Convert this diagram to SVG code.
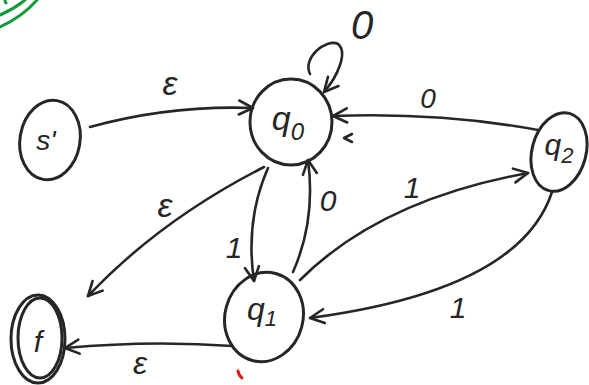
<svg xmlns="http://www.w3.org/2000/svg" width="589" height="385" viewBox="0 0 589 385">
<style>
.n{fill:none;stroke:#262626;stroke-width:3;stroke-linecap:round;stroke-linejoin:round}
.e{fill:none;stroke:#262626;stroke-width:2.6;stroke-linecap:round;stroke-linejoin:round}
.t{font-family:"Liberation Sans",Arial,sans-serif;font-style:italic;fill:#262626;text-anchor:middle}
.g{fill:none;stroke:#129a3c;stroke-width:3;stroke-linecap:round}
</style>
<defs>
<marker id="ar" viewBox="0 0 18 18" refX="16" refY="9" markerWidth="18" markerHeight="18" markerUnits="userSpaceOnUse" orient="auto">
<path d="M2,2 L16,9 L2,16" fill="none" stroke="#262626" stroke-width="2.6" stroke-linecap="round" stroke-linejoin="round"/>
</marker>
</defs>
<rect width="589" height="385" fill="#fff"/>
<path class="g" d="M0,15 Q14,9 25,0"/>
<path class="g" d="M0,27 Q22,17 37,0"/>
<path class="g" d="M5,1 L6,3"/>
<g id="edges">
<path class="e" marker-end="url(#ar)" d="M90,127 Q170,105 253,108"/>
<path class="e" marker-end="url(#ar)" d="M264,167 Q160,220 88,296"/>
<path class="e" marker-end="url(#ar)" d="M268,168 Q245,220 254,281"/>
<path class="e" marker-end="url(#ar)" d="M293,272 Q316,220 308,160"/>
<path class="e" marker-end="url(#ar)" d="M233,346 Q150,340 65,348"/>
<path class="e" marker-end="url(#ar)" d="M538,130 Q440,112 333,116"/>
<path class="e" marker-end="url(#ar)" d="M300,280 Q380,200 528,173"/>
<path class="e" marker-end="url(#ar)" d="M552,192 Q520,290 310,318"/>
<path class="e" marker-end="url(#ar)" d="M310,74 C302,58 326,38 338,44 C348,52 338,76 324,92"/>
<path class="e" d="M352,134 L344,138 L352,142"/>
<text class="t" x="170" y="95" font-size="34">ε</text>
<text class="t" x="165" y="217" font-size="34">ε</text>
<text class="t" x="140" y="374" font-size="32">ε</text>
<text class="t" x="362" y="39" font-size="40">0</text>
<text class="t" x="428" y="108" font-size="28">0</text>
<text class="t" x="328" y="211" font-size="30">0</text>
<text class="t" x="234" y="258" font-size="30">1</text>
<text class="t" x="412" y="198" font-size="30">1</text>
<text class="t" x="458" y="318" font-size="30">1</text>
</g>
<g id="s1">
<ellipse class="n" cx="50" cy="140" rx="30" ry="40" transform="rotate(10 50 140)"/>
<text class="t" x="46" y="150" font-size="28">s'</text>
</g>
<g id="q0">
<ellipse class="n" cx="291" cy="122" rx="41" ry="43"/>
<text class="t" x="288" y="130" font-size="34">q<tspan font-size="24" dy="10">0</tspan></text>
</g>
<g id="q1">
<ellipse class="n" cx="264" cy="317" rx="39" ry="45" transform="rotate(15 264 317)"/>
<text class="t" x="262" y="320" font-size="32">q<tspan font-size="22" dy="6">1</tspan></text>
</g>
<g id="q2">
<ellipse class="n" cx="559" cy="152" rx="27" ry="40" transform="rotate(15 559 152)"/>
<text class="t" x="559" y="155" font-size="30">q<tspan font-size="22" dy="8">2</tspan></text>
</g>
<g id="f">
<ellipse class="n" cx="38" cy="339" rx="27" ry="44"/>
<ellipse class="n" cx="40" cy="338" rx="22" ry="40"/>
<text class="t" x="38" y="352" font-size="30">f</text>
</g>
<path d="M238,371 Q239,376 242,378" fill="none" stroke="#e01818" stroke-width="3" stroke-linecap="round"/>
</svg>
